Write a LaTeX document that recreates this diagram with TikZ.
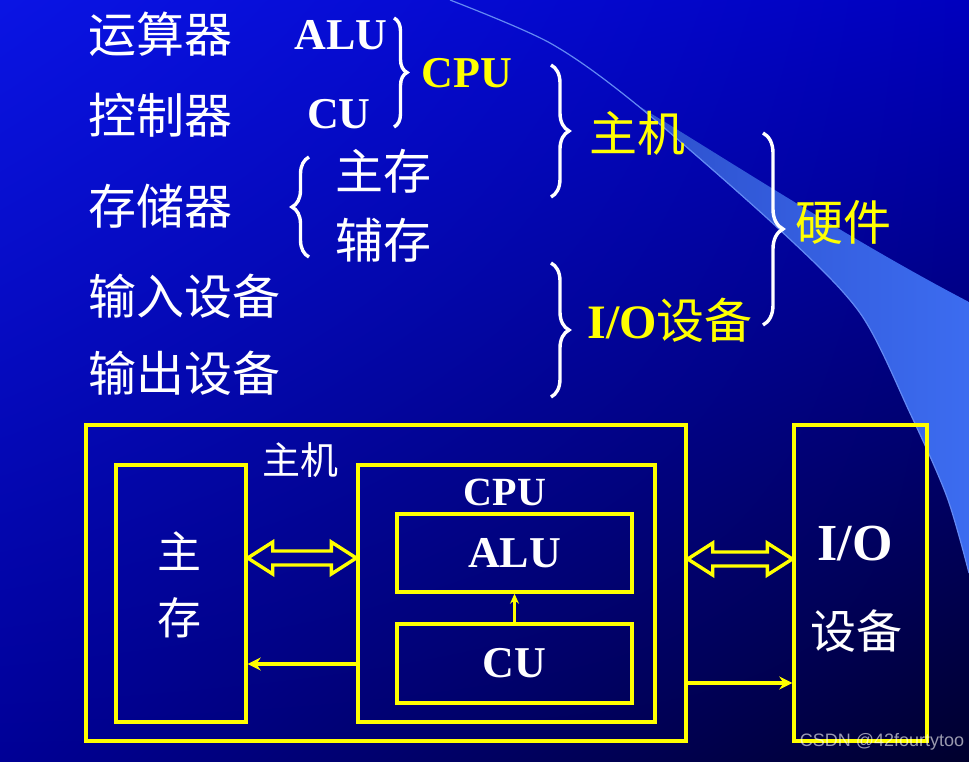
\documentclass[tikz,border=0pt]{standalone}
\usepackage{fontspec}
\setmainfont{Liberation Serif}
\setsansfont{Liberation Sans}
\newfontfamily\cjk{Noto Sans CJK SC}
\usetikzlibrary{arrows.meta,calc,decorations.pathreplacing,shadings}

\definecolor{slidetl}{RGB}{10,20,228}
\definecolor{slidetr}{RGB}{0,0,190}
\definecolor{slidebl}{RGB}{0,0,150}
\definecolor{slidebr}{RGB}{0,0,45}
\definecolor{swooshdark}{RGB}{45,80,205}
\definecolor{swooshlight}{RGB}{60,108,240}
\definecolor{hwyellow}{RGB}{255,255,0}

\tikzstyle{every node}=[inner sep=0pt, outer sep=0pt]
\tikzstyle{term}=[white, anchor=west, font={\cjk\fontsize{24pt}{28pt}\selectfont}]
\tikzstyle{abbr}=[white, font={\bfseries\fontsize{22pt}{26pt}\selectfont}]
\tikzstyle{category}=[hwyellow, font={\cjk\fontsize{24pt}{28pt}\selectfont}]
\tikzstyle{curly}=[decorate, white, line width=1.7pt]
\tikzstyle{unit}=[draw=hwyellow, line width=1.7pt, outer sep=0.85pt, text=white]
\tikzstyle{boxlabel}=[white, font={\cjk\fontsize{22pt}{26pt}\selectfont}]
\tikzstyle{wire}=[hwyellow, line width=1.6pt, -{Stealth[length=6.5pt,width=6.5pt]}]
\tikzstyle{thinwire}=[hwyellow, line width=1.1pt, -{Stealth[length=5pt,width=4.5pt]}]
\tikzstyle{hollowbus}=[draw=hwyellow, line width=1.7pt, line join=miter]
\tikzstyle{credit}=[white, opacity=0.6, font={\sffamily\fontsize{9pt}{11pt}\selectfont}]

% hollow two-way bus between two named points
\newcommand\fatbus[2]{%
    \draw[hollowbus] (#1) -- ++(25,-16) -- ++(0,9) -- ($(#2)+(-25,-7)$) -- ++(0,-9)
        -- (#2) -- ++(-25,16) -- ++(0,-9) -- ($(#1)+(25,7)$) -- ++(0,9) -- cycle;}

\begin{document}
\begin{tikzpicture}[x=0.5pt,y=-0.5pt]
    \useasboundingbox (0,0) rectangle (969,761);
    % slide background
    \shade[upper left=slidetl, upper right=slidetr, lower left=slidebl, lower right=slidebr]
        (0,0) rectangle (969,761);
    \shade[left color=swooshdark, right color=swooshlight]
        (637,105) .. controls (720,155) and (850,240) .. (969,302) -- (969,573)
        -- plot[smooth] coordinates {(969,573) (947,497) (910,413) (860,313) (780,230) (637,105)} -- cycle;
    \draw[color=swooshlight!80!white, line width=0.6pt]
        plot[smooth] coordinates {(450,0) (550,43) (637,105) (780,230) (860,313) (910,413) (947,497) (969,573)};

    % classification
    \node [term] (ysq) at (88,34) {运算器};
    \node [term] (kzq) at (88,115) {控制器};
    \node [term] (ccq) at (88,206) {存储器};
    \node [term] (srsb) at (88,296) {输入设备};
    \node [term] (scsb) at (88,373) {输出设备};
    \node [abbr] (alu1) at (341,35) {ALU};
    \node [abbr] (cu1) at (339,114) {CU};
    \node [abbr, hwyellow] (cpu1) at (467,73) {CPU};
    \node [term, anchor=center] (zc1) at (383,171) {主存};
    \node [term, anchor=center] (fc1) at (383,240) {辅存};
    \node [category] (zj1) at (637,133) {主机};
    \node [category] (io1) at (670,320) {{\rmfamily\bfseries I/O}设备};
    \node [category] (yj1) at (843,222) {硬件};

    \draw [curly, decoration={brace, amplitude=6.5pt}] (394,18) -- (394,127);
    \draw [curly, decoration={brace, amplitude=8.5pt}] (309,257) -- (309,157);
    \draw [curly, decoration={brace, amplitude=9pt}] (551,65) -- (551,197);
    \draw [curly, decoration={brace, amplitude=9pt}] (551,263) -- (551,397);
    \draw [curly, decoration={brace, amplitude=10pt}] (763,133) -- (763,325);

    % structure
    \node [unit, minimum width=300pt, minimum height=158pt] (host) at (386,583) {};
    \node [unit, minimum width=65pt, minimum height=128.5pt] (mem) at (181,593.5) {};
    \node [unit, minimum width=148.5pt, minimum height=128.5pt] (cpu) at (506.5,593.5) {};
    \node [unit, minimum width=117.5pt, minimum height=39pt, font={\bfseries\fontsize{22pt}{26pt}\selectfont}] (alu) at (514.5,553) {ALU};
    \node [unit, minimum width=117.5pt, minimum height=39.5pt, font={\bfseries\fontsize{22pt}{26pt}\selectfont}] (cu) at (514.5,663.5) {CU};
    \node [unit, minimum width=66.5pt, minimum height=158pt] (io) at (860.5,583) {};

    \node [boxlabel, font={\cjk\fontsize{19pt}{22pt}\selectfont}] at (300,460) {主机};
    \node [abbr, font={\bfseries\fontsize{20pt}{24pt}\selectfont}] at (505,492) {CPU};
    \node [boxlabel] at (179,551) {主};
    \node [boxlabel] at (179,618) {存};
    \node [abbr, font={\bfseries\fontsize{26pt}{30pt}\selectfont}] at (855,544) {I/O};
    \node [boxlabel, font={\cjk\fontsize{23pt}{27pt}\selectfont}] at (856,631) {设备};

    \path ($(mem.east)+(0,-35.5)$) coordinate (membus)
          ($(cpu.west)+(0,-35.5)$) coordinate (cpubus)
          ($(host.east)+(0,-24)$) coordinate (hostbus)
          ($(io.west)+(0,-24)$) coordinate (iobus);
    \fatbus{membus}{cpubus}
    \fatbus{hostbus}{iobus}
    \draw [wire] ($(cpu.west)+(0,70.5)$) -- ($(mem.east)+(0,70.5)$);
    \draw [wire] ($(host.east)+(0,100)$) -- ($(io.west)+(0,100)$);
    \draw [thinwire] (cu.north) -- (alu.south);

    \node [credit] at (882,742) {CSDN @42fourtytoo};
\end{tikzpicture}
\end{document}
